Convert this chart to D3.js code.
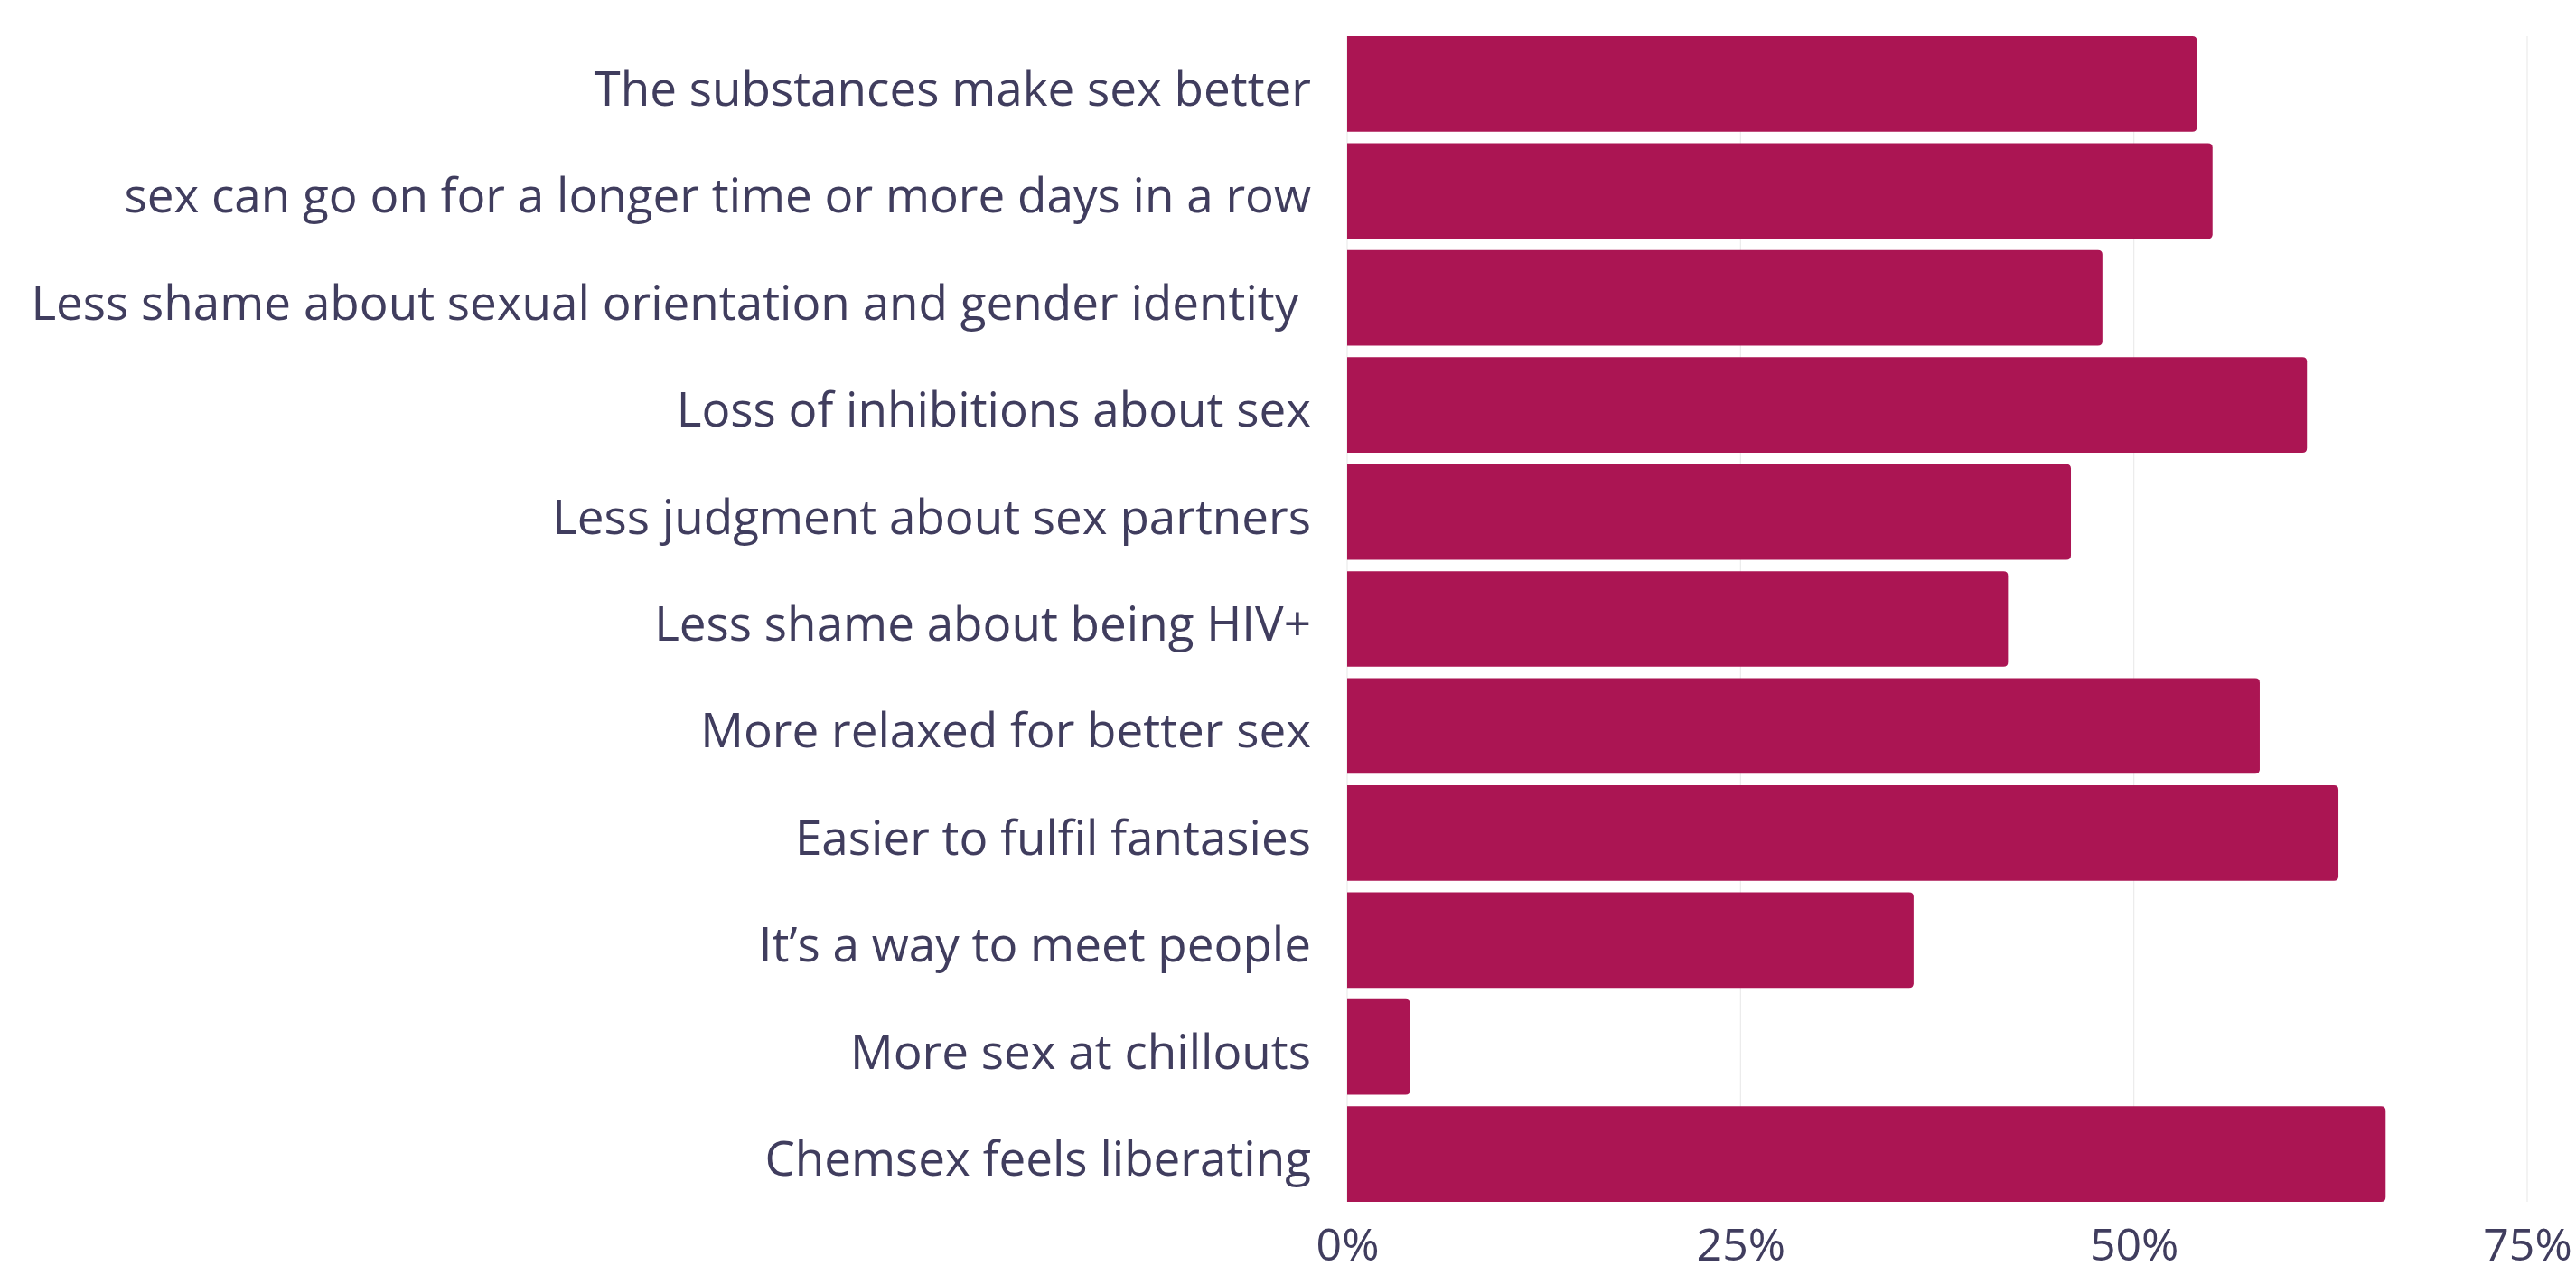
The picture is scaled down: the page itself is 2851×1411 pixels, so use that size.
<!DOCTYPE html>
<html>
<head>
<meta charset="utf-8">
<script src="https://cdn.jsdelivr.net/npm/d3@7"></script>
<style>
  html, body { margin: 0; padding: 0; background: #ffffff; }
  svg { display: block; }
</style>
</head>
<body>
<svg id="chart" width="2851" height="1411"></svg>
<script>
// Reasons given for chemsex, share of respondents (%)
const categories = [
  "The substances make sex better",
  "sex can go on for a longer time or more days in a row",
  "Less shame about sexual orientation and gender identity ",
  "Loss of inhibitions about sex",
  "Less judgment about sex partners",
  "Less shame about being HIV+",
  "More relaxed for better sex",
  "Easier to fulfil fantasies",
  "It\u2019s a way to meet people",
  "More sex at chillouts",
  "Chemsex feels liberating"
];
const values = [54, 55, 48, 61, 46, 42, 58, 63, 36, 4, 66];
const tickValues = [0, 25, 50, 75];
const tickLabels = ["0%", "25%", "50%", "75%"];

const svg = d3.select("#chart");
const W = 2851, H = 1411;
const margin = { left: 1491, right: 54, top: 40, bottom: 81 };

const barColor = "#ab1553";
const textColor = "#403d5e";
const gridColor = "#ebebeb";
const fontFamily = "'Open Sans', 'Noto Sans', sans-serif";
const fontSize = 53;
const tickFontSize = 50;

const x = d3.scaleLinear()
  .domain([0, 75])
  .range([margin.left, W - margin.right]);

const y = d3.scaleBand()
  .domain(categories)
  .range([margin.top, H - margin.bottom])
  .paddingInner(0.1075)
  .paddingOuter(0);

// vertical gridlines
svg.append("g")
  .selectAll("line")
  .data(tickValues)
  .join("line")
  .attr("x1", d => x(d)).attr("x2", d => x(d))
  .attr("y1", margin.top).attr("y2", H - margin.bottom)
  .attr("stroke", gridColor)
  .attr("stroke-width", 1.2);

// bars with rounded right-hand corners
const r = 5;
function barPath(d, i) {
  const x0 = x(0), x1 = x(values[i]);
  const y0 = y(d), h = y.bandwidth();
  const rr = Math.min(r, (x1 - x0) / 2);
  return `M${x0},${y0}H${x1 - rr}Q${x1},${y0} ${x1},${y0 + rr}` +
         `V${y0 + h - rr}Q${x1},${y0 + h} ${x1 - rr},${y0 + h}H${x0}Z`;
}
svg.append("g")
  .selectAll("path")
  .data(categories)
  .join("path")
  .attr("d", barPath)
  .attr("fill", barColor);

// category labels
svg.append("g")
  .selectAll("text")
  .data(categories)
  .join("text")
  .attr("x", margin.left - 40)
  .attr("y", d => y(d) + y.bandwidth() / 2 + 24)
  .attr("text-anchor", "end")
  .attr("xml:space", "preserve")
  .style("white-space", "pre")
  .attr("font-family", fontFamily)
  .attr("font-size", fontSize)
  .attr("fill", textColor)
  .text(d => d);

// x-axis tick labels
const xAxis = d3.axisBottom(x)
  .tickValues(tickValues)
  .tickFormat((d, i) => tickLabels[i])
  .tickSize(0)
  .tickPadding(0);
const ax = svg.append("g")
  .attr("transform", `translate(0, ${H - 16})`)
  .call(xAxis);
ax.select(".domain").remove();
ax.selectAll("text")
  .attr("dy", null)
  .attr("y", 0)
  .attr("font-family", fontFamily)
  .attr("font-size", tickFontSize)
  .attr("fill", textColor);
</script>
</body>
</html>
